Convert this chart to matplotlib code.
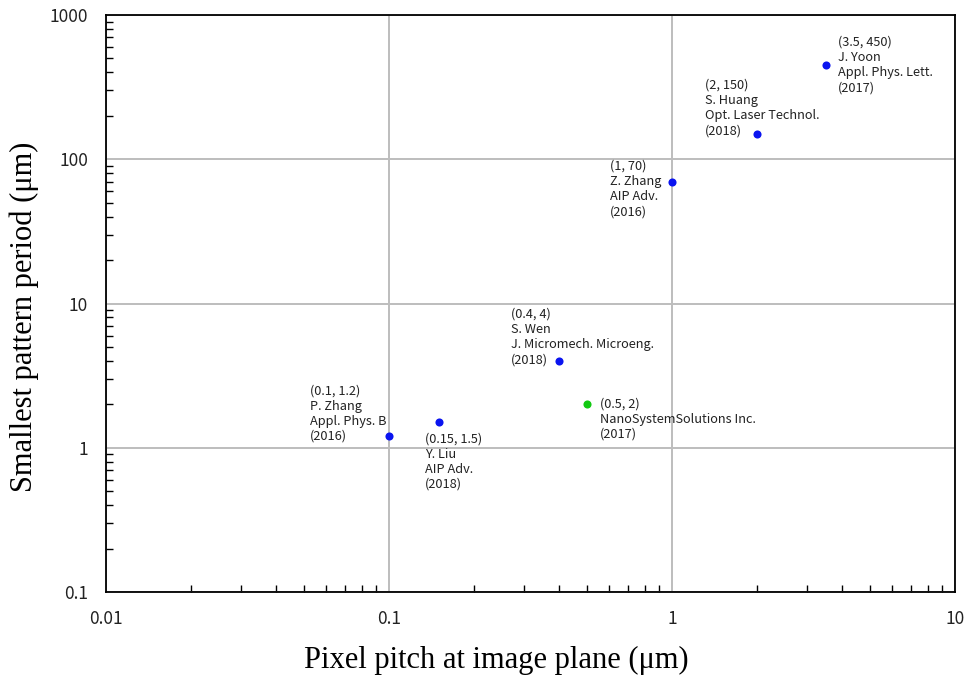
import matplotlib
matplotlib.use("Agg")
import matplotlib.pyplot as plt
from matplotlib.ticker import LogLocator, FuncFormatter, NullFormatter

# pixel pitch (um) vs smallest pattern period (um)
pitch = [0.1, 0.15, 0.4, 0.5, 1, 2, 3.5]
period = [1.2, 1.5, 4, 2, 70, 150, 450]
authors = ["P. Zhang", "Y. Liu", "S. Wen", "NanoSystemSolutions Inc.",
           "Z. Zhang", "S. Huang", "J. Yoon"]
journals = ["Appl. Phys. B", "AIP Adv.", "J. Micromech. Microeng.", "",
            "AIP Adv.", "Opt. Laser Technol.", "Appl. Phys. Lett."]
years = [2016, 2018, 2018, 2017, 2016, 2018, 2017]
is_company = [False, False, False, True, False, False, False]

# label offsets in pixels (left edge, top edge) from each point
offsets = [(-79, 52), (-14, -10), (-48, 53), (13, 7), (-62, 22), (-52, 55), (12, 29)]

label_font = ["Noto Sans CJK KR", "DejaVu Sans"]
title_font = ["Liberation Serif", "DejaVu Serif"]

fig = plt.figure(figsize=(9.72, 6.79), dpi=100)
ax = fig.add_axes([0.109, 0.128, 0.8735, 0.85])

for i in range(len(pitch)):
    c = "#12c912" if is_company[i] else "#0a14f0"
    ax.scatter(pitch[i], period[i], s=34, color=c, zorder=3, linewidths=0)
    lines = ["(%g, %g)" % (pitch[i], period[i]), authors[i]]
    if journals[i]:
        lines.append(journals[i])
    lines.append("(%d)" % years[i])
    ax.annotate("\n".join(lines), (pitch[i], period[i]),
                xytext=offsets[i], textcoords="offset pixels",
                ha="left", va="top", fontsize=9.2, linespacing=1.22,
                family=label_font, color="#222222")

ax.set_xscale("log")
ax.set_yscale("log")
ax.set_xlim(0.01, 10)
ax.set_ylim(0.1, 1000)

fmt = FuncFormatter(lambda v, p: "%g" % v)
for axis in (ax.xaxis, ax.yaxis):
    axis.set_major_formatter(fmt)
    axis.set_minor_locator(LogLocator(base=10, subs=range(2, 10)))
    axis.set_minor_formatter(NullFormatter())

ax.tick_params(which="major", length=0, pad=13, labelsize=12.5)
ax.tick_params(which="minor", direction="in", length=5, width=1)
for lbl in ax.get_xticklabels() + ax.get_yticklabels():
    lbl.set_family(label_font)
    lbl.set_color("#222222")

ax.grid(True, which="major", color="#bdbdbd", linewidth=1.4)
ax.set_axisbelow(True)
for sp in ax.spines.values():
    sp.set_linewidth(1.3)

ax.set_xlabel("Pixel pitch at image plane (μm)", fontsize=22, family=title_font)
ax.set_ylabel("Smallest pattern period (μm)", fontsize=22, family=title_font)
ax.xaxis.set_label_coords(0.4594, -0.0936)
ax.yaxis.set_label_coords(-0.079, 0.4775)

fig.savefig("out.png", dpi=100)
